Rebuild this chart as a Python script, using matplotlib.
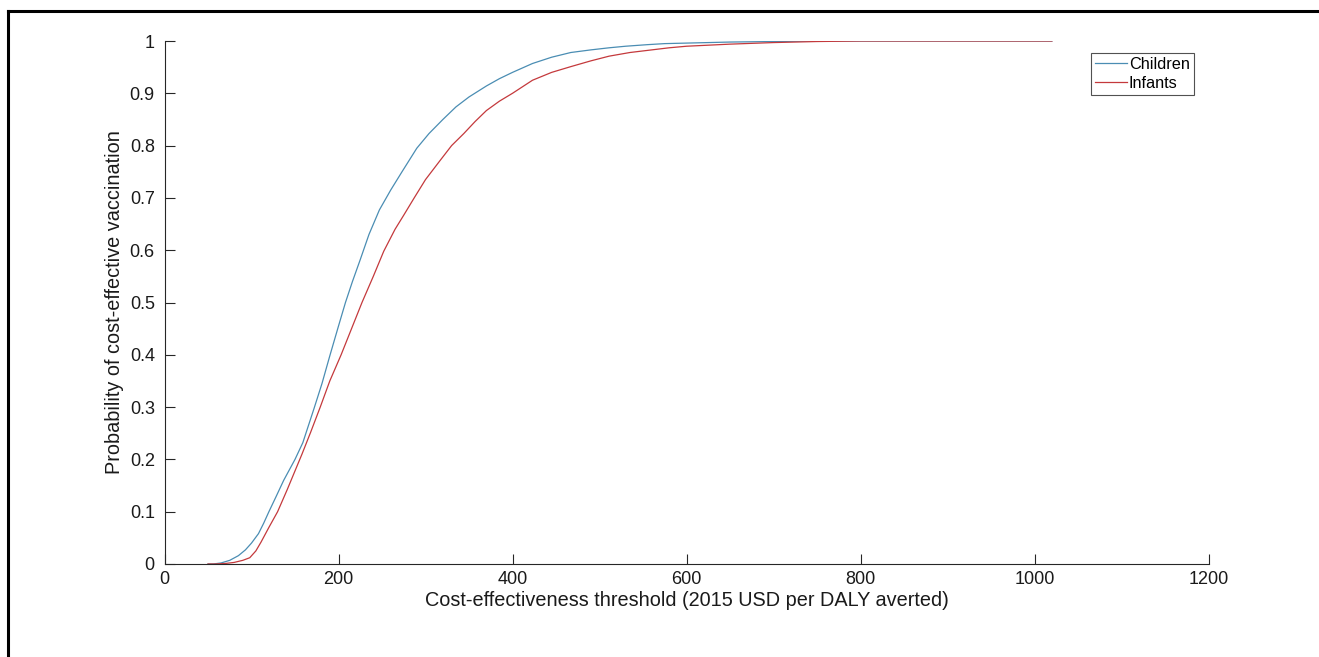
import matplotlib
matplotlib.use("Agg")
import matplotlib.pyplot as plt
from matplotlib.lines import Line2D

plt.rcParams['font.family'] = ['Liberation Sans', 'DejaVu Sans']

# Threshold values (2015 USD per DALY averted) and probability of cost-effectiveness
children_x = [50, 56, 65, 75, 85, 93, 100, 108, 114, 120, 128, 137, 150, 159, 172, 181, 190,
              200, 208, 216, 225, 235, 247, 260, 273, 290, 304, 320, 335, 350, 370, 385, 400,
              423, 445, 467, 490, 511, 530, 555, 575, 600, 650, 700, 750, 800, 900, 1020]
children_y = [0.0, 0.0, 0.002, 0.007, 0.016, 0.027, 0.040, 0.058, 0.078, 0.100, 0.128, 0.160,
              0.200, 0.232, 0.298, 0.345, 0.398, 0.455, 0.500, 0.540, 0.582, 0.630, 0.677,
              0.715, 0.750, 0.795, 0.823, 0.850, 0.874, 0.893, 0.914, 0.928, 0.940, 0.957,
              0.969, 0.978, 0.983, 0.987, 0.990, 0.993, 0.995, 0.996, 0.998, 0.999, 1.0,
              1.0, 1.0, 1.0]

infants_x = [50, 58, 70, 80, 90, 98, 105, 111, 120, 130, 141, 150, 158, 168, 179, 190, 203,
             215, 227, 240, 252, 265, 275, 287, 300, 317, 330, 344, 357, 370, 385, 400, 423,
             445, 467, 490, 511, 535, 555, 580, 600, 650, 700, 750, 800, 900, 1020]
infants_y = [0.0, 0.0, 0.001, 0.003, 0.007, 0.012, 0.025, 0.042, 0.070, 0.100, 0.142, 0.178,
             0.210, 0.252, 0.300, 0.350, 0.400, 0.450, 0.500, 0.550, 0.598, 0.640, 0.667,
             0.700, 0.735, 0.772, 0.800, 0.823, 0.846, 0.867, 0.885, 0.900, 0.925, 0.940,
             0.951, 0.962, 0.971, 0.978, 0.982, 0.987, 0.990, 0.994, 0.997, 0.999, 1.0,
             1.0, 1.0]

series_labels = ["Children", "Infants"]
x_ticks = [0, 200, 400, 600, 800, 1000, 1200]
y_ticks = [0, 0.1, 0.2, 0.3, 0.4, 0.5, 0.6, 0.7, 0.8, 0.9, 1]
y_tick_labels = ["0", "0.1", "0.2", "0.3", "0.4", "0.5", "0.6", "0.7", "0.8", "0.9", "1"]

W, H = 1319, 657
fig = plt.figure(figsize=(W / 100, H / 100), dpi=100)
ax_left, ax_right, ax_top, ax_bottom = 164.5, 1208.5, 41, 564
ax = fig.add_axes([ax_left / W, 1 - ax_bottom / H, (ax_right - ax_left) / W,
                   (ax_bottom - ax_top) / H])

ax.plot(children_x, children_y, color='#4A8DB3', lw=0.9, label=series_labels[0])
ax.plot(infants_x, infants_y, color='#C4393C', lw=0.9, label=series_labels[1])

ax.set_xlim(0, 1200)
ax.set_ylim(0, 1)
ax.set_xticks(x_ticks)
ax.set_xticklabels([str(t) for t in x_ticks])
ax.set_yticks(y_ticks)
ax.set_yticklabels(y_tick_labels)

for s in ['top', 'right']:
    ax.spines[s].set_visible(False)
for s in ['left', 'bottom']:
    ax.spines[s].set_color('#262626')
    ax.spines[s].set_linewidth(0.8)

tick_fs = 13
ax.tick_params(direction='in', length=7.5, width=0.8, color='#262626',
               labelsize=tick_fs, labelcolor='#1a1a1a')
ax.tick_params(axis='x', pad=5)
ax.tick_params(axis='y', pad=7)

ax.set_xlabel("Cost-effectiveness threshold (2015 USD per DALY averted)",
              fontsize=14.3, color='#1a1a1a', labelpad=2)
ax.set_ylabel("Probability of cost-effective vaccination",
              fontsize=14.3, color='#1a1a1a', labelpad=4)

leg = ax.legend(loc='upper right', bbox_to_anchor=(0.986, 0.977), fontsize=11.7,
                frameon=True, fancybox=False, handlelength=1.95, handletextpad=0.12,
                borderpad=0.25, labelspacing=0.25, borderaxespad=0)
leg.get_frame().set_edgecolor('#262626')
leg.get_frame().set_linewidth(0.8)

# Figure frame (only top and left edges visible in the reference)
fig.add_artist(Line2D([8 / W, 1.0], [1 - 11 / H, 1 - 11 / H],
                      transform=fig.transFigure, color='black', lw=2.2))
fig.add_artist(Line2D([8 / W, 8 / W], [0.0, 1 - 11 / H],
                      transform=fig.transFigure, color='black', lw=2.2))

fig.savefig("out.png", dpi=100)
